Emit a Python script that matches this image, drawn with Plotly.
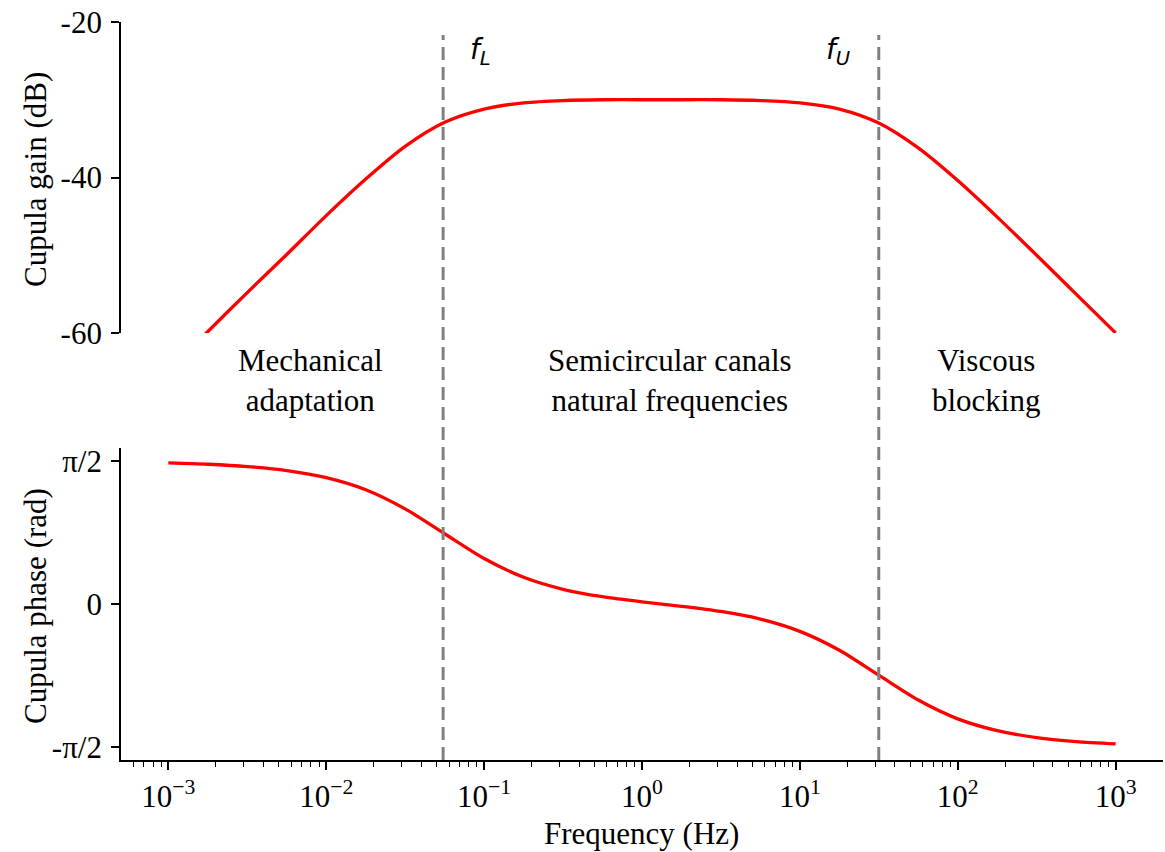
import numpy as np
import plotly.graph_objects as go

# ---------------- data ----------------
freq_hz = [0.001, 0.00178, 0.00316, 0.00562, 0.01, 0.0178, 0.0316, 0.0562,
           0.1, 0.178, 0.316, 0.562, 1.0, 1.78, 3.16, 5.62, 10.0, 17.8,
           31.6, 56.2, 100.0, 178.0, 316.0, 562.0, 1000.0]
gain_db = [-64.8, -59.8, -54.8, -49.9, -44.9, -40.2, -36.0, -32.9,
           -31.2, -30.4, -30.1, -30.0, -30.0, -30.0, -30.0, -30.1, -30.4, -31.2,
           -33.0, -36.2, -40.4, -45.1, -50.0, -55.0, -60.0]
phase_rad = [1.553, 1.538, 1.513, 1.469, 1.391, 1.258, 1.047, 0.773,
             0.500, 0.294, 0.162, 0.080, 0.023, -0.025, -0.082, -0.166, -0.301, -0.509,
             -0.784, -1.057, -1.264, -1.394, -1.471, -1.514, -1.539]

cutoff_freqs = [0.055, 31.6]            # f_L, f_U
cutoff_labels = ["<i>f</i><sub><i>L</i></sub>", "<i>f</i><sub><i>U</i></sub>"]

region_labels = ["Mechanical<br>adaptation",
                 "Semicircular canals<br>natural frequencies",
                 "Viscous<br>blocking"]

gain_ticks = [-20, -40, -60]
gain_ticktext = ["-20", "-40", "-60"]
phase_ticks = [np.pi / 2, 0, -np.pi / 2]
phase_ticktext = ["π/2", "0", "-π/2"]
x_ticks = [1e-3, 1e-2, 1e-1, 1e0, 1e1, 1e2, 1e3]
x_ticktext = ["10<sup>−3</sup>", "10<sup>−2</sup>", "10<sup>−1</sup>", "10<sup>0</sup>",
              "10<sup>1</sup>", "10<sup>2</sup>", "10<sup>3</sup>"]

# ---------------- layout helpers (pixel -> paper) ----------------
W, H = 1165, 852
ML, MR = 121, 2
PW = W - ML - MR


def px_x(px):
    return (px - ML) / PW


def px_y(py):
    return (H - py) / H


FONT = "Liberation Serif"
FS = 31
RED = "#ff0000"
GREY = "#808080"

minor_vals = [m * 10.0 ** e for e in range(-4, 4) for m in range(2, 10)
              if 10 ** -3.3 <= m * 10.0 ** e <= 10 ** 3.3]

fig = go.Figure()
fig.add_trace(go.Scatter(x=freq_hz, y=gain_db, xaxis="x", yaxis="y", mode="lines",
                         line=dict(color=RED, width=3.3, shape="spline", smoothing=0.8),
                         showlegend=False, hoverinfo="skip"))
fig.add_trace(go.Scatter(x=freq_hz, y=phase_rad, xaxis="x2", yaxis="y2", mode="lines",
                         line=dict(color=RED, width=3.3, shape="spline", smoothing=0.8),
                         showlegend=False, hoverinfo="skip"))

axis_common = dict(showgrid=False, zeroline=False, showline=True, linecolor="black",
                   linewidth=1.7, ticks="outside", ticklen=8, tickwidth=1.7,
                   tickcolor="black", automargin=False,
                   tickfont=dict(family=FONT, size=FS, color="black"))

fig.update_layout(
    template="none",
    width=W, height=H,
    margin=dict(l=ML, r=MR, t=0, b=0, pad=0),
    paper_bgcolor="white", plot_bgcolor="white",
    font=dict(family=FONT, size=FS, color="black"),
    xaxis=dict(type="log", range=[-3.3, 3.3], domain=[0, 1], anchor="y",
               visible=False, showgrid=False, zeroline=False, automargin=False),
    yaxis=dict(domain=[px_y(333), px_y(22)], range=[-60, -20], anchor="x",
               tickmode="array", tickvals=gain_ticks, ticktext=gain_ticktext,
               ticklabelstandoff=3, **axis_common),
    xaxis2=dict(type="log", range=[-3.3, 3.3], domain=[0, 1], anchor="y2",
                tickmode="array", tickvals=x_ticks, ticktext=x_ticktext,
                minor=dict(tickmode="array", tickvals=minor_vals, ticks="outside",
                           ticklen=5, tickwidth=1.4, tickcolor="black", showgrid=False),
                **axis_common),
    yaxis2=dict(domain=[px_y(760), px_y(448)], range=[-1.717, 1.717], anchor="x2",
                tickmode="array", tickvals=phase_ticks, ticktext=phase_ticktext,
                ticklabelstandoff=3, **axis_common),
)

# dashed cutoff lines spanning both panels
for fc in cutoff_freqs:
    fig.add_shape(type="line", xref="x2", yref="paper", x0=fc, x1=fc,
                  y0=px_y(760), y1=px_y(35),
                  line=dict(color=GREY, width=3, dash="13px,7px"), layer="above")

# cutoff labels
fig.add_annotation(text=cutoff_labels[0], xref="paper", yref="paper",
                   x=px_x(468), y=px_y(52), xanchor="left", yanchor="middle",
                   showarrow=False, font=dict(family="DejaVu Sans", size=28, color="black"))
fig.add_annotation(text=cutoff_labels[1], xref="paper", yref="paper",
                   x=px_x(852), y=px_y(52), xanchor="right", yanchor="middle",
                   showarrow=False, font=dict(family="DejaVu Sans", size=28, color="black"))

# region labels
for lab, cx in zip(region_labels, [310, 670, 986]):
    fig.add_annotation(text=lab, xref="paper", yref="paper", x=px_x(cx), y=px_y(381),
                       xanchor="center", yanchor="middle", showarrow=False,
                       font=dict(family=FONT, size=FS, color="black"))

# axis titles
fig.add_annotation(text="Cupula gain (dB)", xref="paper", yref="paper",
                   x=px_x(35), y=px_y(180), textangle=-90, xanchor="center",
                   yanchor="middle", showarrow=False,
                   font=dict(family=FONT, size=FS, color="black"))
fig.add_annotation(text="Cupula phase (rad)", xref="paper", yref="paper",
                   x=px_x(35), y=px_y(606), textangle=-90, xanchor="center",
                   yanchor="middle", showarrow=False,
                   font=dict(family=FONT, size=FS, color="black"))
fig.add_annotation(text="Frequency (Hz)", xref="paper", yref="paper",
                   x=px_x(641), y=px_y(833), xanchor="center", yanchor="middle",
                   showarrow=False, font=dict(family=FONT, size=FS, color="black"))

fig.write_html("out.html")
